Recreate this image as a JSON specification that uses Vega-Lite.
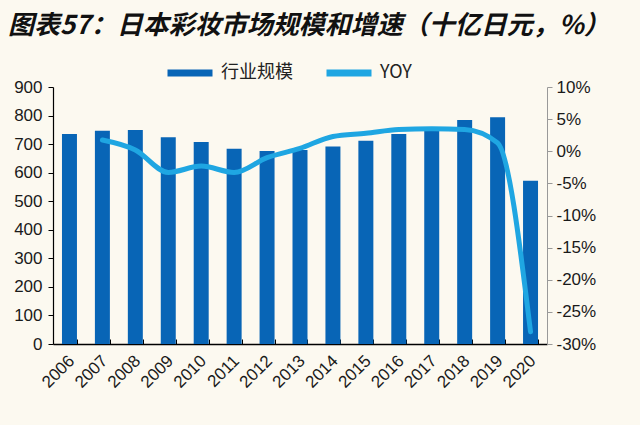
{
  "$schema": "https://vega.github.io/schema/vega-lite/v6.json",
  "autosize": {"type": "none"},
  "width": 494,
  "height": 257,
  "padding": {"left": 53, "top": 87, "right": 93, "bottom": 81},
  "background": "#FCF9F0",
  "title": {
    "text": "图表57：日本彩妆市场规模和增速（十亿日元，%）",
    "anchor": "start",
    "frame": "group",
    "font": "Noto Sans CJK SC",
    "fontSize": 26,
    "fontWeight": "bold",
    "fontStyle": "italic",
    "color": "#111111",
    "dx": -45,
    "dy": 16,
    "offset": 24
  },
  "config": {
    "view": {"stroke": null},
    "font": "Liberation Sans"
  },
  "data": {
    "values": [
      {"year": "2006", "scale": 735, "yoy": null},
      {"year": "2007", "scale": 747, "yoy": 1.75},
      {"year": "2008", "scale": 749, "yoy": 0.2},
      {"year": "2009", "scale": 724, "yoy": -3.3},
      {"year": "2010", "scale": 707, "yoy": -2.3},
      {"year": "2011", "scale": 684, "yoy": -3.3},
      {"year": "2012", "scale": 676, "yoy": -1.0},
      {"year": "2013", "scale": 679, "yoy": 0.45},
      {"year": "2014", "scale": 692, "yoy": 2.3},
      {"year": "2015", "scale": 712, "yoy": 2.8},
      {"year": "2016", "scale": 735, "yoy": 3.4},
      {"year": "2017", "scale": 752, "yoy": 3.5},
      {"year": "2018", "scale": 784, "yoy": 3.4},
      {"year": "2019", "scale": 794, "yoy": 1.3},
      {"year": "2020", "scale": 572, "yoy": -28.1}
    ]
  },
  "encoding": {
    "x": {
      "field": "year",
      "type": "ordinal",
      "scale": {"paddingInner": 0.545, "paddingOuter": 0.2725},
      "axis": {
        "title": null,
        "labelAngle": -45,
        "labelAlign": "right",
        "labelBaseline": "middle",
        "labelFontSize": 17,
        "labelColor": "#1a1a1a",
        "labelPadding": 19,
        "tickBand": "extent",
        "tickSize": -5,
        "tickColor": "#000000",
        "domainColor": "#000000",
        "domainWidth": 1.5,
        "labelOffset": 2
      }
    }
  },
  "layer": [
    {
      "mark": {"type": "bar"},
      "encoding": {
        "y": {
          "field": "scale",
          "type": "quantitative",
          "scale": {"domain": [0, 900]},
          "axis": {
            "title": null,
            "values": [0, 100, 200, 300, 400, 500, 600, 700, 800, 900],
            "grid": false,
            "labelFontSize": 17,
            "labelColor": "#1a1a1a",
            "labelPadding": 6,
            "tickSize": 5,
            "tickColor": "#000000",
            "domainColor": "#000000",
            "domainWidth": 1.2
          }
        },
        "color": {
          "datum": "行业规模",
          "type": "nominal",
          "scale": {"domain": ["行业规模", "YOY"], "range": ["#0865B6", "#1FA6E2"]},
          "legend": {
            "title": null,
            "orient": "none",
            "legendX": 111,
            "legendY": -40,
            "direction": "horizontal",
            "symbolType": "stroke",
            "symbolSize": 2025,
            "symbolStrokeWidth": 7,
            "labelFontSize": 18,
            "labelFont": "Noto Sans CJK SC",
            "labelColor": "#222222",
            "labelOffset": 5,
            "columnPadding": 19
          }
        }
      }
    },
    {
      "mark": {"type": "line", "interpolate": "monotone", "strokeWidth": 5, "strokeCap": "round"},
      "encoding": {
        "y": {
          "field": "yoy",
          "type": "quantitative",
          "scale": {"domain": [-30, 10]},
          "axis": {
            "title": null,
            "orient": "right",
            "values": [-30, -25, -20, -15, -10, -5, 0, 5, 10],
            "labelExpr": "datum.value + '%'",
            "grid": false,
            "labelFontSize": 17,
            "labelColor": "#1a1a1a",
            "labelPadding": 4,
            "tickSize": 5,
            "tickColor": "#999999",
            "domainColor": "#999999"
          }
        },
        "color": {"datum": "YOY", "type": "nominal"}
      }
    }
  ],
  "resolve": {"scale": {"y": "independent"}}
}
